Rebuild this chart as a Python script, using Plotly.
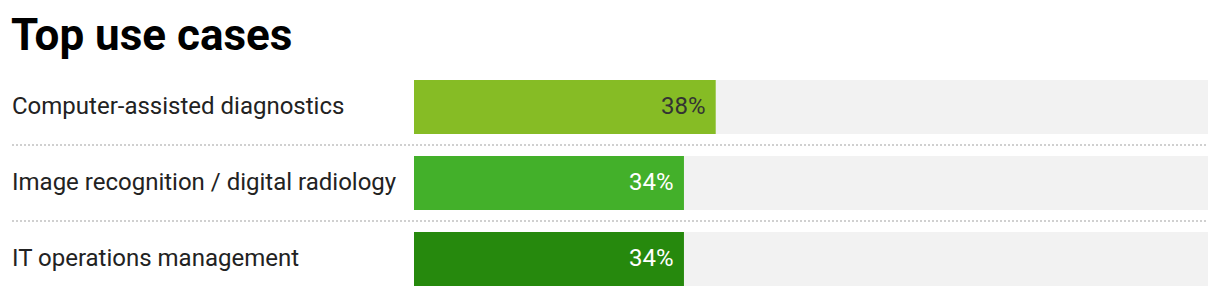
import plotly.graph_objects as go

categories = ["Computer-assisted diagnostics", "Image recognition / digital radiology", "IT operations management"]
values = [38, 34, 34]
value_labels = ["38%", "34%", "34%"]
bar_colors = ["#86BC25", "#43B02A", "#26890D"]
text_colors = ["#333333", "#FFFFFF", "#FFFFFF"]
full_scale = [100, 100, 100]

W, H = 1220, 296
top = 69
fig = go.Figure()
fig.add_trace(go.Bar(y=categories, x=full_scale, orientation="h", marker=dict(color="#F2F2F2", line_width=0),
                     width=0.71, hoverinfo="skip", showlegend=False))
fig.add_trace(go.Bar(y=categories, x=values, orientation="h", marker=dict(color=bar_colors, line_width=0),
                     width=0.71, showlegend=False))

for c, v, t, tc in zip(categories, values, value_labels, text_colors):
    fig.add_annotation(x=v, y=c, xref="x", yref="y", text=t, showarrow=False, xanchor="right",
                       xshift=-8, yshift=1, font=dict(family="Roboto", size=24, color=tc))
    fig.add_annotation(x=12 / W, y=c, xref="paper", yref="y", text=c, showarrow=False, xanchor="left",
                       xshift=-2, yshift=1, font=dict(family="Roboto", size=24, color="#222222"))

for i in range(len(categories) - 1):
    fig.add_shape(type="line", xref="paper", yref="y", x0=12 / W, x1=1208 / W, y0=i + 0.5, y1=i + 0.5,
                  line=dict(color="#D0D0D0", width=2, dash="2px,2px"))

fig.update_layout(
    width=W, height=H,
    margin=dict(l=0, r=0, t=top, b=0),
    barmode="overlay",
    plot_bgcolor="white", paper_bgcolor="white",
    title=dict(text="<b>Top use cases</b>", x=11 / W, xanchor="left", xref="container",
               y=1 - 34.5 / H, yanchor="middle", yref="container",
               font=dict(family="Roboto", size=44, color="#000000")),
    xaxis=dict(domain=[414 / W, 1208 / W], range=[0, 100], visible=False, fixedrange=True),
    yaxis=dict(range=[len(categories) - 1 + 0.5 + (H - top - 76 * len(categories)) / 76, -0.5],
               visible=False, fixedrange=True),
    font=dict(family="Roboto"),
)

fig.write_html("out.html")
